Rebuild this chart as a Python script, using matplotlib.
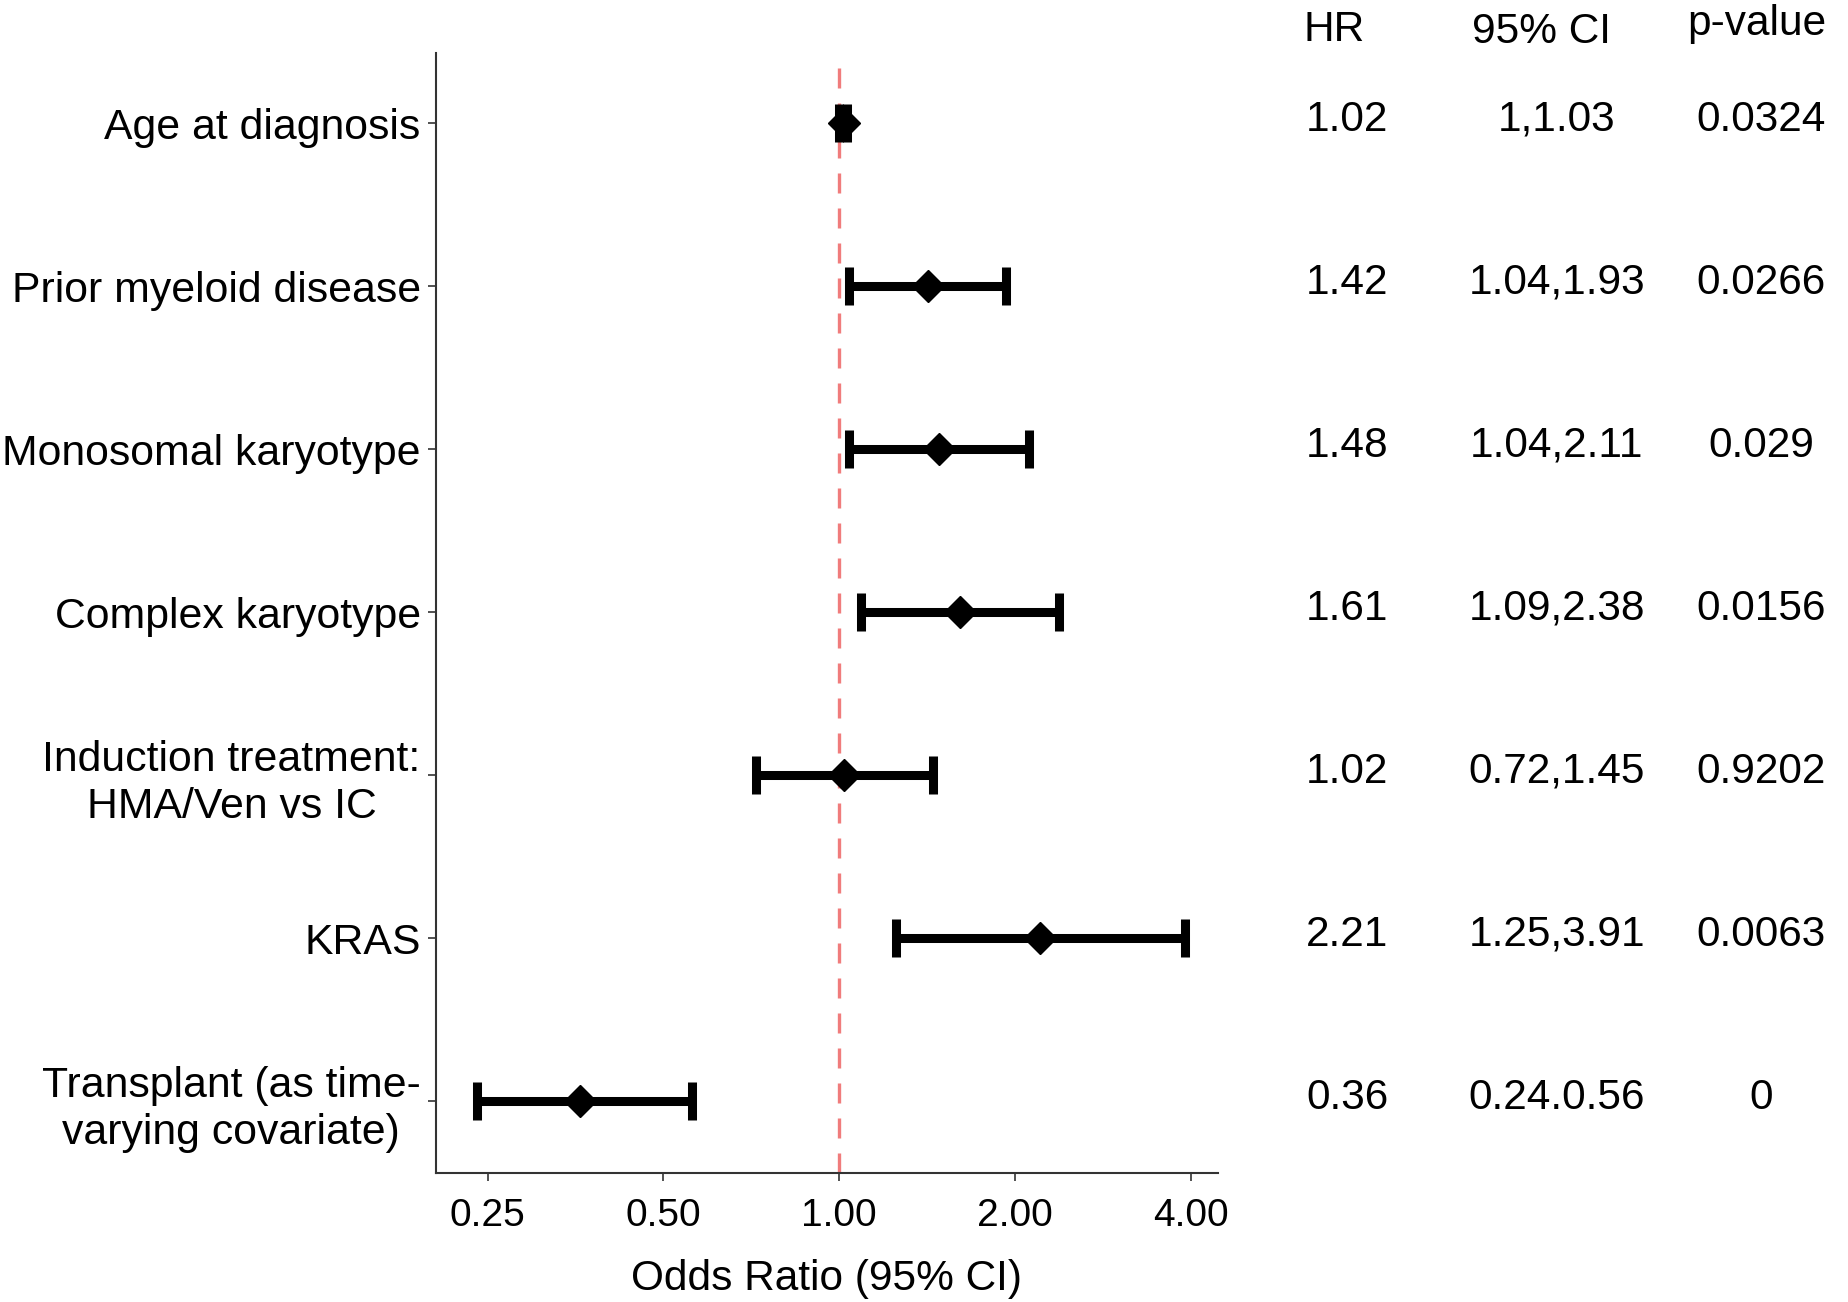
import numpy as np
import matplotlib
matplotlib.use("Agg")
import matplotlib.pyplot as plt
import matplotlib.transforms as mtransforms
from matplotlib.ticker import FixedLocator, NullLocator

plt.rcParams['font.family'] = ['Liberation Sans', 'DejaVu Sans']

# data
labels = ["Age at diagnosis", "Prior myeloid disease", "Monosomal karyotype",
          "Complex karyotype", "Induction treatment:\nHMA/Ven vs IC", "KRAS",
          "Transplant (as time-\nvarying covariate)"]
hr = [1.02, 1.42, 1.48, 1.61, 1.02, 2.21, 0.36]
ci_low = [1.00, 1.04, 1.04, 1.09, 0.72, 1.25, 0.24]
ci_high = [1.03, 1.93, 2.11, 2.38, 1.45, 3.91, 0.56]
hr_text = ["1.02", "1.42", "1.48", "1.61", "1.02", "2.21", "0.36"]
ci_text = ["1,1.03", "1.04,1.93", "1.04,2.11", "1.09,2.38", "0.72,1.45",
           "1.25,3.91", "0.24.0.56"]
p_text = ["0.0324", "0.0266", "0.029", "0.0156", "0.9202", "0.0063", "0"]
xticks = [0.25, 0.5, 1.0, 2.0, 4.0]
xtick_labels = ["0.25", "0.50", "1.00", "2.00", "4.00"]

fig = plt.figure(figsize=(18.49, 13.02), dpi=100)
ax = fig.add_axes([0.2358, 0.0991, 0.6587 - 0.2358, 0.9593 - 0.0991])

y = np.arange(len(labels))[::-1] + 1
hr = np.array(hr)
err = np.vstack([hr - np.array(ci_low), np.array(ci_high) - hr])

ax.axvline(1.0, color='#f07c7c', lw=2.4, ls=(0, (6, 4.5)), zorder=1)
ax.errorbar(hr, y, xerr=err, fmt='none', ecolor='black', elinewidth=6.5,
            capsize=14, capthick=6.5, zorder=2)
ax.plot(hr, y, 'D', color='black', ms=16, zorder=3)

ax.set_xscale('log', base=2)
ax.set_xlim(0.204, 4.45)
ax.set_ylim(0.56, 7.43)
ax.xaxis.set_major_locator(FixedLocator(xticks))
ax.xaxis.set_minor_locator(NullLocator())
ax.set_xticklabels(xtick_labels)
ax.set_yticks(y)
ax.set_yticklabels(labels)

for side in ['top', 'right']:
    ax.spines[side].set_visible(False)
for side in ['left', 'bottom']:
    ax.spines[side].set_color('#333333')
    ax.spines[side].set_linewidth(1.5)
ax.tick_params(axis='both', length=6, width=1.2, color='#333333',
               labelsize=30.8, labelcolor='black')
ax.tick_params(axis='y', pad=5)
ax.tick_params(axis='x', pad=12, labelsize=28)
for lbl in ax.get_yticklabels():
    lbl.set_multialignment('center')
    lbl.set_linespacing(1.22)
ax.set_xlabel("Odds Ratio (95% CI)", fontsize=30.5, labelpad=18)

# table on the right
trans = mtransforms.blended_transform_factory(fig.transFigure, ax.transData)
col_x = [1347 / 1849, 1557 / 1849, 1761 / 1849]
for yi, a, b, c in zip(y, hr_text, ci_text, p_text):
    for xc, s in zip(col_x, [a, b, c]):
        fig.text(xc, yi + 0.02, s, transform=trans, ha='center', va='center',
                 fontsize=30.5)

head_x = [1334 / 1849, 1542 / 1849, 1757 / 1849]
head_y = [1 - 30 / 1302, 1 - 32 / 1302, 1 - 24 / 1302]
for xc, yc, s in zip(head_x, head_y, ["HR", "95% CI", "p-value"]):
    fig.text(xc, yc, s, ha='center', va='center', fontsize=30.5)

fig.savefig("out.png", dpi=100)
